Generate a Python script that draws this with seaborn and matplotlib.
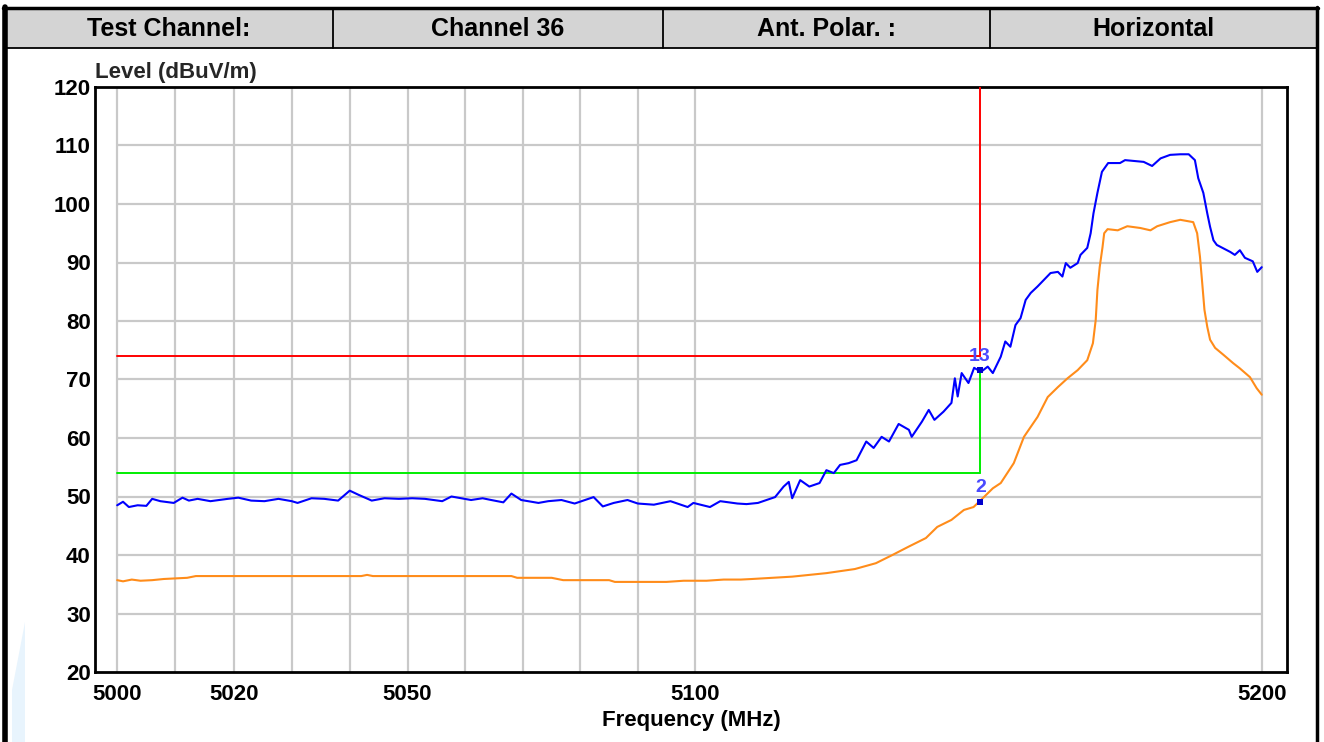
import matplotlib
matplotlib.use("Agg")
import matplotlib.pyplot as plt
import matplotlib.ticker as mticker
from matplotlib.patches import Rectangle, Polygon
from matplotlib.lines import Line2D
import seaborn as sns
import pandas as pd

# ---------------- data ----------------
header_cells = ["Test Channel:", "Channel 36", "Ant. Polar. :", "Horizontal"]

pk_freq = [5000, 5001, 5002, 5003.5, 5005, 5006, 5007.4, 5009.7, 5011.2, 5012.3, 5013.8, 5016,
           5019, 5020.8, 5023, 5025.3, 5027.7, 5030, 5031, 5033.4, 5035.6, 5038, 5040, 5041.5,
           5043.8, 5046, 5048.5, 5050.8, 5053, 5056, 5057.6, 5061, 5063, 5064.5, 5066.6, 5068,
           5069.7, 5072.7, 5074.4, 5076.7, 5079, 5082.3, 5083.9, 5085.8, 5088.2, 5090, 5092.8,
           5095.7, 5098.7, 5099.7, 5102.6, 5104.4, 5107.4, 5109, 5111, 5114, 5115.5, 5116.4,
           5117, 5118.4, 5120, 5121.8, 5123, 5124.3, 5125.4, 5126.9, 5128.3, 5130, 5131.3,
           5132.7, 5134, 5135.7, 5137.5, 5138, 5139.8, 5141, 5142, 5143.6, 5145, 5145.6,
           5146.1, 5146.8, 5148, 5149, 5150.2, 5151.4, 5152.3, 5153.7, 5154.5, 5155.4, 5156.3,
           5157.2, 5158.1, 5159, 5160.2, 5161.3, 5162.5, 5163.8, 5164.6, 5165.2, 5166, 5167.3,
           5167.8, 5169, 5169.6, 5170.1, 5170.8, 5171.6, 5172.7, 5174.8, 5175.7, 5179, 5180.5,
           5182, 5183.7, 5185.5, 5187, 5188.1, 5188.7, 5189.6, 5190.3, 5190.8, 5191.4, 5192,
           5193, 5194.4, 5195.2, 5196.1, 5197, 5198.4, 5199.2, 5200]
pk_level = [48.5, 49.1, 48.2, 48.5, 48.4, 49.6, 49.2, 48.9, 49.8, 49.3, 49.6, 49.2,
            49.6, 49.8, 49.3, 49.2, 49.6, 49.2, 48.9, 49.7, 49.6, 49.3, 51.0, 50.3,
            49.3, 49.7, 49.6, 49.7, 49.6, 49.2, 50.0, 49.4, 49.7, 49.4, 49.0, 50.5,
            49.4, 48.9, 49.2, 49.4, 48.8, 49.9, 48.3, 48.9, 49.4, 48.8, 48.6,
            49.2, 48.2, 48.9, 48.2, 49.2, 48.8, 48.7, 48.9, 49.9, 51.7, 52.5,
            49.7, 52.8, 51.7, 52.3, 54.5, 54.0, 55.4, 55.7, 56.2, 59.4, 58.3,
            60.2, 59.4, 62.4, 61.4, 60.2, 62.8, 64.8, 63.1, 64.5, 66.0, 70.2,
            67.1, 71.1, 69.4, 72.0, 71.3, 72.2, 71.1, 73.9, 76.5, 75.6, 79.3,
            80.5, 83.6, 84.8, 85.9, 87.0, 88.2, 88.4, 87.6, 89.9, 89.1, 89.9,
            91.3, 92.5, 95.0, 98.4, 101.9, 105.5, 107.0, 107.0, 107.5, 107.2, 106.5,
            107.8, 108.4, 108.5, 108.5, 107.5, 104.4, 101.9, 98.4, 96.1, 93.8, 93.0,
            92.5, 91.8, 91.3, 92.1, 90.8, 90.2, 88.4, 89.2]

av_freq = [5000, 5001, 5002.5, 5004, 5006, 5008, 5010, 5012, 5013.5, 5020, 5030, 5042, 5043,
           5044, 5050, 5060, 5068, 5069, 5075, 5077, 5085, 5086, 5095, 5098, 5102, 5105, 5108,
           5110, 5117, 5123, 5128, 5131.7, 5134.6, 5137.4, 5140.5, 5142.5, 5145, 5147.2,
           5148.9, 5150.2, 5152.3, 5153.7, 5156, 5157.8, 5159, 5160.2, 5162, 5163.8, 5165.5,
           5167.3, 5169, 5170, 5170.5, 5170.8, 5171.2, 5171.7, 5172, 5172.6, 5174.4, 5176.1,
           5178.4, 5180.2, 5181.4, 5183.7, 5185.5, 5187.8, 5188.5, 5189, 5189.4, 5189.8,
           5190.3, 5190.8, 5191.7, 5193.2, 5194.9, 5196.1, 5197.9, 5199.1, 5200]
av_level = [35.7, 35.5, 35.8, 35.6, 35.7, 35.9, 36.0, 36.1, 36.4, 36.4, 36.4, 36.4, 36.6,
            36.4, 36.4, 36.4, 36.4, 36.1, 36.1, 35.7, 35.7, 35.4, 35.4, 35.6, 35.6, 35.8, 35.8,
            35.9, 36.3, 36.9, 37.6, 38.6, 40.0, 41.4, 42.9, 44.8, 46.0, 47.7,
            48.2, 49.4, 51.4, 52.3, 55.7, 60.2, 61.9, 63.6, 67.0, 68.7, 70.2,
            71.6, 73.3, 76.2, 80.2, 85.3, 89.2, 92.6, 95.0, 95.7, 95.5, 96.2,
            95.9, 95.5, 96.2, 96.9, 97.3, 96.9, 95.0, 91.0, 86.5, 81.9,
            79.0, 76.8, 75.4, 74.2, 72.8, 71.9, 70.4, 68.5, 67.4]

limit_freq = [5000, 5150]
peak_limit = 74
avg_limit = 54

marker_freq = [5150, 5150]
marker_level = [71.6, 49.1]
marker_labels = ["13", "2"]

x_ticks = [5000, 5020, 5050, 5100, 5200]
x_grid = [5000, 5010, 5020, 5030, 5040, 5050, 5060, 5070, 5080, 5090, 5100, 5200]
y_ticks = [20, 30, 40, 50, 60, 70, 80, 90, 100, 110, 120]

# ---------------- figure ----------------
sns.set_theme(style="white")
plt.rcParams["font.family"] = ["Liberation Sans", "DejaVu Sans"]
plt.rcParams["font.weight"] = "bold"

W, H = 1324, 742
fig = plt.figure(figsize=(W / 100, H / 100), dpi=100)
fig.patch.set_facecolor("white")


def fx(px):
    return px / W


def fy(py):
    return 1 - py / H


# watermark (faint)
fig.add_artist(Polygon([[fx(12), fy(742)], [fx(12), fy(690)], [fx(25), fy(622)], [fx(25), fy(742)]],
                       closed=True, transform=fig.transFigure, facecolor="#e8f4fd", edgecolor="none", zorder=0))

# header row
fig.add_artist(Rectangle((fx(5), fy(48)), fx(1317) - fx(5), fy(8) - fy(48), transform=fig.transFigure,
                         facecolor="#d4d4d4", edgecolor="none", zorder=1))
cell_edges = [5, 333, 663, 990, 1317]
for i, txt in enumerate(header_cells):
    cx = (cell_edges[i] + cell_edges[i + 1]) / 2
    fig.text(fx(cx), fy(29), txt, ha="center", va="center", fontsize=18, fontweight="bold", color="black")
for e in cell_edges[1:-1]:
    fig.add_artist(Line2D([fx(e), fx(e)], [fy(8), fy(48)], transform=fig.transFigure, color="black", lw=1.3))
fig.add_artist(Line2D([fx(5), fx(1317)], [fy(48), fy(48)], transform=fig.transFigure, color="black", lw=1.3))
fig.add_artist(Line2D([fx(3), fx(1318)], [fy(8), fy(8)], transform=fig.transFigure, color="black", lw=2.5))
fig.add_artist(Line2D([fx(5), fx(5)], [fy(7), fy(742)], transform=fig.transFigure, color="black", lw=4))
fig.add_artist(Line2D([fx(1317), fx(1317)], [fy(7), fy(742)], transform=fig.transFigure, color="black", lw=2.5))

# plot axes
ax = fig.add_axes([fx(95), fy(672), fx(1287) - fx(95), fy(87) - fy(672)])
ax.set_facecolor("white")
ax.set_xscale("log")
ax.set_xlim(4996.2, 5204.5)
ax.set_ylim(20, 120)

grid_c = "#c9c9c9"
ax.vlines(x_grid, 20, 120, colors=grid_c, lw=1.6, zorder=1)
ax.hlines(y_ticks[1:-1], 5000, 5200, colors=grid_c, lw=1.6, zorder=1)

# limit lines
ax.plot(limit_freq, [peak_limit, peak_limit], color="#ff0000", lw=1.4, zorder=3)
ax.plot([limit_freq[1], limit_freq[1]], [peak_limit, 120], color="#ff0000", lw=1.4, zorder=3)
ax.plot(limit_freq, [avg_limit, avg_limit], color="#00ee00", lw=1.4, zorder=3)
ax.plot([limit_freq[1], limit_freq[1]], [avg_limit, marker_level[0]], color="#00ee00", lw=1.4, zorder=3)

# traces
df_pk = pd.DataFrame({"Frequency": pk_freq, "Level": pk_level})
df_av = pd.DataFrame({"Frequency": av_freq, "Level": av_level})
sns.lineplot(data=df_av, x="Frequency", y="Level", color="#ff8c1a", lw=1.5, ax=ax, zorder=4, estimator=None)
sns.lineplot(data=df_pk, x="Frequency", y="Level", color="#0000ff", lw=1.5, ax=ax, zorder=5, estimator=None)

# markers
ax.scatter(marker_freq, marker_level, marker="s", s=22, color="#0000cc", zorder=6, linewidths=0)
for f, lv, lab, dx in zip(marker_freq, marker_level, marker_labels, [0, 1]):
    ax.annotate(lab, (f, lv), xytext=(dx, 4), textcoords="offset points",
                ha="center", va="bottom", fontsize=14, color="#4a4aff", fontweight="bold", zorder=7)

# ticks
ax.xaxis.set_major_locator(mticker.FixedLocator(x_ticks))
ax.xaxis.set_minor_locator(mticker.NullLocator())
ax.xaxis.set_major_formatter(mticker.FixedFormatter([str(t) for t in x_ticks]))
ax.set_yticks(y_ticks)
ax.set_yticklabels([str(t) for t in y_ticks])
ax.tick_params(axis="both", length=0, labelsize=16, colors="black")
ax.tick_params(axis="x", pad=9)
ax.tick_params(axis="y", pad=3)
for lab in ax.get_xticklabels() + ax.get_yticklabels():
    lab.set_fontweight("bold")

ax.set_xlabel("Frequency (MHz)", fontsize=16, fontweight="bold", labelpad=3, color="black")
ax.set_ylabel("")
ax.annotate("Level (dBuV/m)", xy=(0, 1), xycoords="axes fraction", xytext=(0, 3),
            textcoords="offset points", ha="left", va="bottom", fontsize=16, fontweight="bold")

for s in ax.spines.values():
    s.set_color("black")
    s.set_linewidth(2)
    s.set_visible(True)

fig.savefig("out.png", dpi=100, facecolor="white")
